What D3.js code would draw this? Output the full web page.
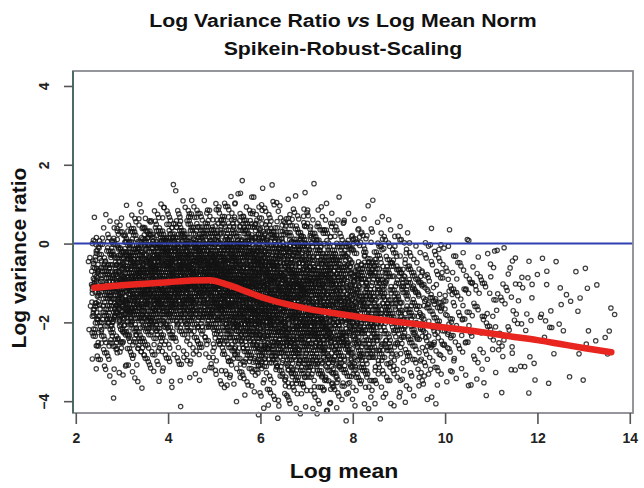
<!DOCTYPE html>
<html lang="en">
<head>
<meta charset="UTF-8">
<title>Log Variance Ratio vs Log Mean Norm</title>
<style>
  body { margin: 0; background: #fff; }
  text { font-family: "Liberation Sans", Arial, sans-serif; }
</style>
</head>
<body>
<svg id="chart" width="644" height="488"></svg>
<script src="https://d3js.org/d3.v7.min.js"></script>
<script>
// x bin edges (log mean) of the point-density grid
var xEdges = [2.35, 2.5, 3.0, 3.5, 4.0, 4.5, 5.0, 5.5, 6.0, 6.5, 7.0, 7.5, 8.0,
              8.5, 9.0, 9.5, 10.0, 10.5, 11.0, 11.5, 12.0, 12.5, 13.0, 13.5, 13.75];
// y bin edges (log variance ratio), top to bottom
var yEdges = [1.5, 1.0, 0.5, 0.0, -0.5, -1.0, -1.5, -2.0, -2.5, -3.0, -3.5, -4.0, -4.4];

// estimated number of genes per cell, one row per x bin, top to bottom in y
var cellCounts = [
  [0, 0, 2, 5, 8, 9, 8, 5, 3, 1, 0, 0],
  [0, 1, 14, 45, 65, 65, 55, 35, 18, 6, 0, 0],
  [0, 5, 32, 78, 95, 95, 78, 38, 18, 6, 1, 0],
  [1, 9, 42, 92, 102, 102, 86, 38, 18, 6, 1, 0],
  [2, 13, 50, 100, 108, 100, 76, 22, 13, 5, 1, 0],
  [1, 16, 52, 100, 108, 100, 72, 20, 11, 5, 1, 0],
  [2, 18, 52, 98, 106, 106, 92, 52, 25, 9, 2, 0],
  [3, 18, 50, 90, 104, 104, 98, 74, 42, 18, 5, 1],
  [2, 16, 46, 80, 96, 102, 96, 82, 54, 27, 9, 2],
  [2, 13, 38, 66, 86, 94, 94, 88, 62, 35, 14, 3],
  [1, 9, 30, 60, 78, 85, 85, 78, 60, 35, 14, 3],
  [0, 5, 20, 46, 64, 70, 74, 66, 50, 30, 13, 3],
  [0, 3, 10, 32, 50, 58, 58, 52, 40, 25, 10, 2],
  [0, 2, 6, 20, 36, 42, 44, 40, 28, 17, 7, 2],
  [0, 1, 3, 13, 23, 28, 31, 28, 20, 12, 5, 1],
  [0, 0, 2, 8, 15, 19, 21, 19, 14, 8, 3, 0],
  [0, 0, 1, 6, 11, 14, 15, 14, 10, 5, 2, 0],
  [0, 0, 0, 4, 7, 9, 10, 9, 7, 4, 2, 0],
  [0, 0, 0, 3, 5, 6, 6, 6, 4, 3, 1, 0],
  [0, 0, 0, 2, 4, 4, 4, 4, 3, 2, 1, 0],
  [0, 0, 0, 1, 2, 2, 3, 3, 2, 1, 1, 0],
  [0, 0, 0, 1, 1, 2, 2, 2, 1, 1, 1, 0],
  [0, 0, 0, 0, 1, 1, 2, 2, 1, 0, 0, 0],
  [0, 0, 0, 0, 0, 0, 1, 1, 1, 0, 0, 0]
];

// loess fit (red)
var loessX = [2.4, 3.0, 3.5, 4.0, 4.5, 4.9, 5.3, 5.7, 6.0, 6.5, 7.0, 7.5, 8.0,
              8.5, 9.0, 9.5, 10.0, 10.5, 11.0, 11.5, 12.0, 12.5, 13.0, 13.6];
var loessY = [-1.12, -1.06, -1.02, -0.98, -0.94, -0.93, -1.05, -1.22, -1.35, -1.52, -1.65, -1.75, -1.84,
              -1.92, -1.99, -2.06, -2.13, -2.2, -2.28, -2.37, -2.45, -2.55, -2.65, -2.76];

var xTicks = [2, 4, 6, 8, 10, 12, 14];
var yTicks = [-4, -2, 0, 2, 4];
var refLine = 0;

var svg = d3.select("#chart");

var x = d3.scaleLinear().domain([1.94, 14.07]).range([73, 633]);
var y = d3.scaleLinear().domain([-4.3, 4.38]).range([413, 71]);

// points: each cell's genes are laid out with a 4-d low-discrepancy sequence
// using a tent profile two cells wide, so neighbouring cells blend smoothly
var phi4 = 1.1673039782614187;
var a1 = 1 / phi4, a2 = a1 / phi4, a3 = a2 / phi4, a4 = a3 / phi4;
var last = cellCounts.length - 1;
var points = [];
var g = 0;
cellCounts.forEach(function(col, i) {
    col.forEach(function(n, j) {
        for (var k = 0; k < n; k++) {
            g++;
            var s1 = (0.5 + g * a1) % 1, s2 = (0.5 + g * a2) % 1,
                s3 = (0.5 + g * a3) % 1, s4 = (0.5 + g * a4) % 1;
            var u = (i === 0 || i === last) ? s1 : s1 + s2 - 0.5,
                v = s3 + s4 - 0.5;
            points.push({
                x: xEdges[i] + u * (xEdges[i + 1] - xEdges[i]),
                y: yEdges[j] + v * (yEdges[j + 1] - yEdges[j])
            });
        }
    });
});

svg.append("g")
   .selectAll("circle")
   .data(points)
   .enter().append("circle")
   .attr("cx", function(d) { return x(d.x); })
   .attr("cy", function(d) { return y(d.y); })
   .attr("r", 2.2)
   .style("fill", "none")
   .style("stroke", "#141414")
   .style("stroke-opacity", 0.82)
   .style("stroke-width", 1.2);

// horizontal reference at 0
svg.append("line")
   .attr("x1", x.range()[0]).attr("x2", x.range()[1])
   .attr("y1", y(refLine)).attr("y2", y(refLine))
   .style("stroke", "#2f3fb2")
   .style("stroke-width", 2);

// loess curve
var line = d3.line()
    .x(function(d) { return x(d[0]); })
    .y(function(d) { return y(d[1]); })
    .curve(d3.curveMonotoneX);

svg.append("path")
   .datum(loessX.map(function(v, i) { return [v, loessY[i]]; }))
   .attr("d", line)
   .style("fill", "none")
   .style("stroke", "#e8251f")
   .style("stroke-width", 6.5)
   .style("stroke-linecap", "round");

// box
svg.append("rect")
   .attr("x", 73).attr("y", 71)
   .attr("width", 560).attr("height", 342)
   .style("fill", "none")
   .style("stroke", "#8a8a92")
   .style("stroke-width", 1.8);

// axes
var xAxis = svg.append("g")
   .attr("transform", "translate(0,413)")
   .call(d3.axisBottom(x).tickValues(xTicks).tickSize(11).tickPadding(9));

var yAxis = svg.append("g")
   .attr("transform", "translate(73,0)")
   .call(d3.axisLeft(y).tickValues(yTicks).tickSize(9).tickPadding(14));

xAxis.select(".domain").remove();
yAxis.select(".domain")
   .attr("d", "M0," + y(-4.3) + "V" + y(4.38))
   .style("stroke", "#4d6b66")
   .style("stroke-width", 2);

[xAxis, yAxis].forEach(function(a) {
    a.selectAll(".tick line").style("stroke", "#555").style("stroke-width", 1.6);
    a.selectAll(".tick text")
     .style("font-size", "14px")
     .style("font-weight", "bold")
     .style("fill", "#222");
});

yAxis.selectAll(".tick text")
     .attr("x", null).attr("dy", null)
     .attr("text-anchor", "middle")
     .attr("transform", "translate(-29,0) rotate(-90)")
     .attr("dy", "0.35em");

// titles (the picture is stretched a little horizontally)
svg.append("text")
   .attr("transform", "translate(343,27) scale(1.12,1)")
   .attr("text-anchor", "middle")
   .style("font-size", "19px").style("font-weight", "bold").style("fill", "#111")
   .html('Log Variance Ratio <tspan font-style="italic">vs</tspan> Log Mean Norm');

svg.append("text")
   .attr("transform", "translate(343,55) scale(1.12,1)")
   .attr("text-anchor", "middle")
   .style("font-size", "19px").style("font-weight", "bold").style("fill", "#111")
   .text("Spikein-Robust-Scaling");

svg.append("text")
   .attr("transform", "translate(344,478) scale(1.15,1)")
   .attr("text-anchor", "middle")
   .style("font-size", "20px").style("font-weight", "bold").style("fill", "#111")
   .text("Log mean");

svg.append("text")
   .attr("transform", "translate(26,258) rotate(-90)")
   .attr("text-anchor", "middle")
   .style("font-size", "21px").style("font-weight", "bold").style("fill", "#111")
   .text("Log variance ratio");
</script>
</body>
</html>
